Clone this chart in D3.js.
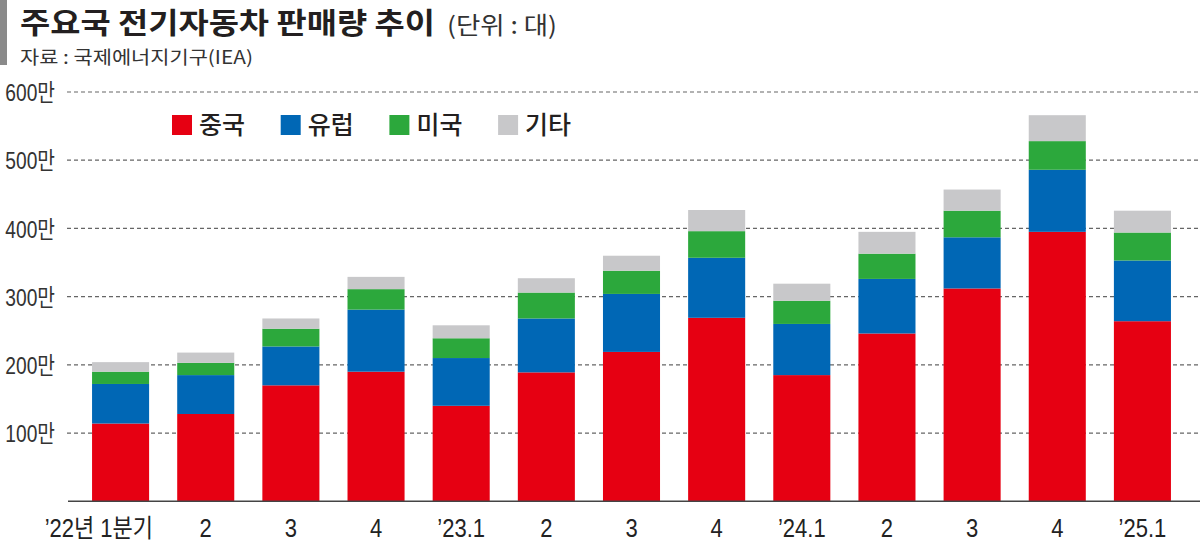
<!DOCTYPE html>
<html>
<head>
<meta charset="utf-8">
<script src="https://cdn.jsdelivr.net/npm/d3@7"></script>
<style>
  body { margin: 0; background: #fff; }
  svg { display: block; }
  .kr { font-family: "Noto Sans CJK KR", "Noto Sans", sans-serif; }
  .num { font-family: "Liberation Sans", "Noto Sans CJK KR", sans-serif; }
</style>
</head>
<body>
<div class="graph"></div>
<script>
// 분기 라벨
var quarters = ['’22년 1분기', '2', '3', '4', '’23.1', '2', '3', '4', '’24.1', '2', '3', '4', '’25.1'];
// 판매량 (단위 : 만 대)
var china  = [114, 128, 170, 190, 140, 189, 219, 269, 185, 246, 312, 395, 264];
var europe = [ 58,  57,  57,  91,  70,  79,  85,  88,  75,  80,  75,  91,  89];
var usa    = [ 18,  18,  26,  30,  29,  38,  34,  39,  34,  37,  39,  42,  41];
var others = [ 14,  15,  15,  18,  19,  21,  22,  31,  25,  32,  31,  38,  32];
var keys = ['중국', '유럽', '미국', '기타'];
var yTicks = [100, 200, 300, 400, 500, 600];

var colors = ['#e60012', '#0067b5', '#2ca83c', '#c8c8ca'];

var w = 1200, h = 544;
var svg = d3.select('div.graph').append('svg')
    .attr('width', w).attr('height', h);

// 좁은 글꼴 대신 글자 폭을 줄인다
function condense(sel, k){
    sel.each(function(){
        var len = this.getComputedTextLength();
        d3.select(this).attr('textLength', len * k).attr('lengthAdjust', 'spacingAndGlyphs');
    });
}

// 표 데이터
var rows = quarters.map(function(q, i){
    return {idx: i, q: q, '중국': china[i], '유럽': europe[i], '미국': usa[i], '기타': others[i]};
});
var stacked = d3.stack().keys(keys)(rows);

// scales
var x = d3.scaleBand().domain(d3.range(quarters.length))
    .range([78, 1185]).paddingInner(0.33).paddingOuter(0.165);
var y = d3.scaleLinear().domain([0, 600]).range([501.3, 92]);

// 제목 영역
svg.append('rect').attr('x', 0).attr('y', 0).attr('width', 7).attr('height', 65).attr('fill', '#8a8a8a');
svg.append('text').attr('class', 'kr')
    .attr('x', 20).attr('y', 34)
    .attr('font-size', 29).attr('font-weight', 'bold').attr('fill', '#231f20')
    .attr('textLength', 415).attr('lengthAdjust', 'spacingAndGlyphs')
    .text('주요국 전기자동차 판매량 추이');
svg.append('text').attr('class', 'kr')
    .attr('x', 447).attr('y', 34)
    .attr('font-size', 24).attr('fill', '#333')
    .attr('textLength', 110).attr('lengthAdjust', 'spacingAndGlyphs')
    .text('(단위 : 대)');
svg.append('text').attr('class', 'kr')
    .attr('x', 20).attr('y', 64)
    .attr('font-size', 18).attr('fill', '#333')
    .attr('textLength', 233).attr('lengthAdjust', 'spacingAndGlyphs')
    .text('자료 : 국제에너지기구(IEA)');

// y axis - 점선 격자
var yAxis = d3.axisLeft(y).tickValues(yTicks).tickSize(0)
    .tickFormat(function(d){ return d + '만'; });
var yAxisG = svg.append('g').attr('transform', 'translate(55,0)').call(yAxis);
yAxisG.attr('font-family', null).attr('font-size', null);
yAxisG.select('.domain').remove();
yAxisG.selectAll('.tick text')
    .attr('class', 'num').attr('x', 0).attr('dy', '0.36em')
    .attr('font-size', 24).attr('fill', '#333')
    .call(condense, 0.8);

svg.append('g').selectAll('line.grid')
    .data(yTicks).enter().append('line')
    .attr('class', 'grid')
    .attr('x1', 67).attr('x2', 1200)
    .attr('y1', function(d){ return y(d); }).attr('y2', function(d){ return y(d); })
    .attr('stroke', '#666').attr('stroke-width', 1.2).attr('stroke-dasharray', '4,3');

// 누적 막대
var layer = svg.append('g').selectAll('g.layer')
    .data(stacked).enter().append('g')
    .attr('class', 'layer')
    .attr('fill', function(d, i){ return colors[i]; });
layer.selectAll('rect')
    .data(function(d){ return d; })
    .enter().append('rect')
    .attr('x', function(d){ return x(d.data.idx); })
    .attr('width', x.bandwidth())
    .attr('y', function(d){ return y(d[1]); })
    .attr('height', function(d){ return y(d[0]) - y(d[1]); });

// 기준선
svg.append('line')
    .attr('x1', 68).attr('x2', 1200)
    .attr('y1', y(0)).attr('y2', y(0))
    .attr('stroke', '#444').attr('stroke-width', 1.6);

// x labels
svg.append('g').selectAll('text.xl')
    .data(rows).enter().append('text')
    .attr('class', 'xl num')
    .attr('x', function(d, i){ return i === 0 ? x(i) + x.bandwidth() + 4 : x(i) + x.bandwidth() / 2; })
    .attr('y', 537)
    .attr('text-anchor', function(d, i){ return i === 0 ? 'end' : 'middle'; })
    .attr('font-size', 25).attr('fill', '#222')
    .text(function(d){ return d.q; })
    .call(condense, 0.88);

// legend
var legend = svg.append('g').selectAll('g.lg')
    .data(keys).enter().append('g')
    .attr('class', 'lg')
    .attr('transform', function(d, i){ return 'translate(' + [172 + i * 108.7, 115] + ')'; });
legend.append('rect')
    .attr('width', 20).attr('height', 20)
    .attr('fill', function(d, i){ return colors[i]; });
legend.append('text').attr('class', 'kr')
    .attr('x', 27).attr('y', 19)
    .attr('font-size', 25).attr('font-weight', 500).attr('fill', '#231f20')
    .attr('textLength', 46).attr('lengthAdjust', 'spacingAndGlyphs')
    .text(function(d){ return d; });
</script>
</body>
</html>
